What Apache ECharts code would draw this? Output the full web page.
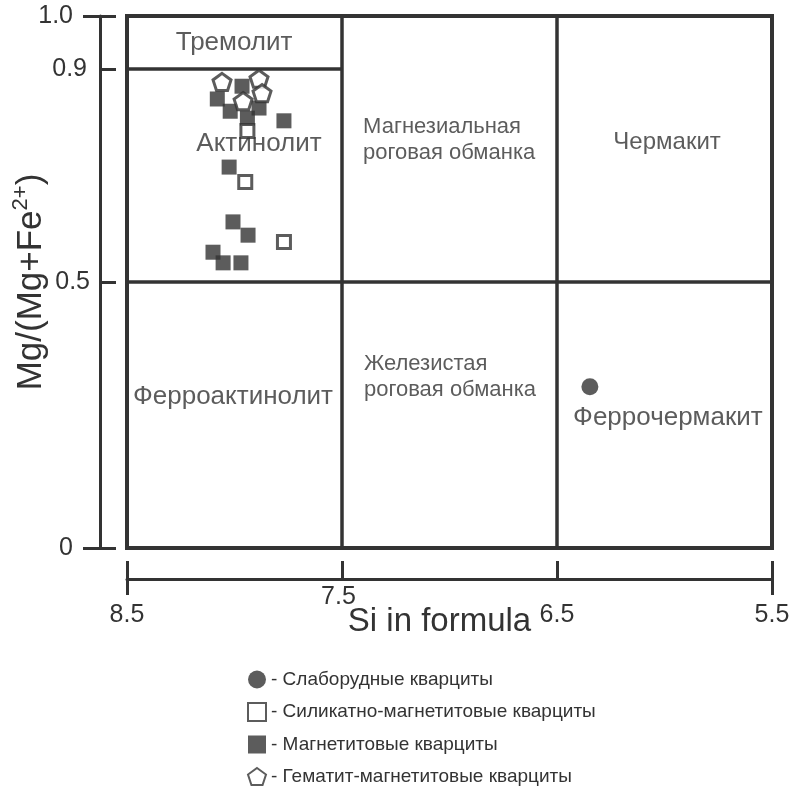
<!DOCTYPE html>
<html>
<head>
<meta charset="utf-8">
<script src="https://cdn.jsdelivr.net/npm/echarts@6/dist/echarts.min.js"></script>
<style>html,body{margin:0;padding:0;background:#fff;}#c{width:797px;height:792px;}</style>
</head>
<body>
<div id="c"></div>
<script>
// ---- data ----
var xTicks = [8.5, 7.5, 6.5, 5.5];
var yTicks = [0, 0.5, 0.9, 1.0];
var yTickLabels = ['0', '0.5', '0.9', '1.0'];

var seriesNames = ['Слаборудные кварциты', 'Силикатно-магнетитовые кварциты', 'Магнетитовые кварциты', 'Гематит-магнетитовые кварциты'];

var weakX = [6.347];
var weakY = [0.303];

var silicateX = [7.94, 7.95, 7.77];
var silicateY = [0.784, 0.688, 0.575];

var magnetiteX = [8.08, 8.02, 7.965, 7.886, 7.94, 7.77, 8.025, 8.007, 7.937, 8.10, 8.053, 7.97];
var magnetiteY = [0.844, 0.821, 0.868, 0.827, 0.808, 0.803, 0.716, 0.613, 0.588, 0.556, 0.536, 0.536];

var hematiteX = [8.058, 7.886, 7.872, 7.96];
var hematiteY = [0.876, 0.882, 0.855, 0.840];

// classification boundaries: [x1, y1, x2, y2]
var boundaries = [
  [8.5, 0.5, 5.5, 0.5],
  [8.5, 0.9, 7.5, 0.9],
  [7.5, 0, 7.5, 1],
  [6.5, 0, 6.5, 1]
];

var regionNames = ['Тремолит', 'Актинолит', 'Магнезиальная\nроговая обманка', 'Чермакит', 'Ферроактинолит', 'Железистая\nроговая обманка', 'Феррочермакит'];
var regionX = [8.002, 7.886, 7.402, 5.988, 8.007, 7.398, 5.984];
var regionY = [0.949, 0.759, 0.767, 0.763, 0.284, 0.321, 0.244];
var regionAlign = ['center', 'center', 'left', 'center', 'center', 'left', 'center'];
var regionSize = [26, 26, 22, 24, 26, 22, 26];

// ---- chart ----
function pairs(xs, ys) { return xs.map(function (x, i) { return [x, ys[i]]; }); }

var dark = '#333';
var font = 'Liberation Sans, Arial, sans-serif';
var pentagon = 'path://M0,-10 L9.51,-3.09 L5.88,8.09 L-5.88,8.09 L-9.51,-3.09 Z';

var regionData = regionNames.map(function (n, i) {
  return {
    name: n, value: [regionX[i], regionY[i]],
    label: { align: regionAlign[i], fontSize: regionSize[i], lineHeight: regionSize[i] + 4 }
  };
});

var chart = echarts.init(document.getElementById('c'), null, { renderer: 'canvas' });
chart.setOption({
  animation: false,
  backgroundColor: '#fff',
  textStyle: { fontFamily: font },
  grid: {
    left: 127, top: 16, width: 645, height: 532,
    outerBoundsMode: 'none', containLabel: false,
    show: true, borderColor: dark, borderWidth: 4, backgroundColor: '#fff'
  },
  xAxis: [{
    type: 'value', min: 5.5, max: 8.5, inverse: true, position: 'bottom', offset: 31,
    splitLine: { show: false },
    axisLine: { show: true, onZero: false, lineStyle: { color: dark, width: 3 } },
    axisTick: { show: true, inside: true, length: 18, customValues: xTicks, lineStyle: { color: dark, width: 3 } },
    axisLabel: {
      show: true, customValues: xTicks, margin: 6, color: dark, fontSize: 25,
      formatter: function (v) { return v === 7.5 ? '{hi|' + v.toFixed(1) + '}' : '{lo|' + v.toFixed(1) + '}'; },
      rich: { hi: { fontSize: 25, color: dark, padding: [0, 7, 0, 0] }, lo: { fontSize: 25, color: dark, padding: [18, 0, 0, 0] } }
    },
    name: 'Si in formula', nameLocation: 'middle', nameGap: 26, nameMoveOverlap: false,
    nameTextStyle: { fontSize: 33, color: dark, padding: [0, 20, 0, 0] }
  }, {
    type: 'value', min: 5.5, max: 8.5, inverse: true, position: 'bottom', offset: 31,
    splitLine: { show: false },
    axisLine: { show: false, onZero: false },
    axisTick: { show: true, inside: false, length: 16, customValues: [8.5, 5.5], lineStyle: { color: dark, width: 3 } },
    axisLabel: { show: false }
  }],
  yAxis: [{
    type: 'value', min: 0, max: 1, position: 'left', offset: 27,
    splitLine: { show: false },
    axisLine: { show: true, onZero: false, lineStyle: { color: dark, width: 3 } },
    axisTick: { show: true, inside: true, length: 16, customValues: yTicks, lineStyle: { color: dark, width: 3 } },
    axisLabel: {
      show: true, customValues: yTicks, margin: 10, color: dark, fontSize: 25,
      formatter: function (v) {
        var i = yTicks.indexOf(v);
        var t = yTickLabels[i];
        if (v === 0 || v === 1) return '{far|' + t + '}';
        if (v === 0.9) return '{mid|' + t + '}';
        return '{near|' + t + '}';
      },
      rich: {
        far: { fontSize: 25, color: dark, padding: [0, 17, 0, 0] },
        mid: { fontSize: 25, color: dark, padding: [0, 3, 0, 0] },
        near: { fontSize: 25, color: dark }
      }
    },
    name: '{b|Mg/(Mg+Fe}{s|2+}{b|)}', nameLocation: 'middle', nameGap: 48, nameRotate: 90, nameMoveOverlap: false,
    nameTextStyle: {
      color: dark,
      rich: {
        b: { fontSize: 35, color: dark, lineHeight: 42, fontFamily: font },
        s: { fontSize: 22, color: dark, verticalAlign: 'top', lineHeight: 42, fontFamily: font }
      }
    }
  }, {
    type: 'value', min: 0, max: 1, position: 'left', offset: 27,
    splitLine: { show: false },
    axisLine: { show: false, onZero: false },
    axisTick: { show: true, inside: false, length: 17, customValues: [0, 1], lineStyle: { color: dark, width: 3 } },
    axisLabel: { show: false }
  }],
  legend: {
    orient: 'vertical', left: 242, top: 665, itemGap: 13, itemWidth: 18, itemHeight: 18,
    data: seriesNames,
    formatter: '- {name}',
    textStyle: { fontSize: 19, color: dark },
    selectedMode: false
  },
  series: [{
    type: 'scatter', name: 'regions', silent: true, symbolSize: 0, z: 1,
    data: regionData,
    label: {
      show: true, position: 'inside', color: dark,
      formatter: function (p) { return p.name; }
    },
    markLine: {
      silent: true, symbol: 'none', animation: false,
      lineStyle: { color: dark, width: 3.5, type: 'solid' },
      label: { show: false },
      data: boundaries.map(function (b) { return [{ coord: [b[0], b[1]] }, { coord: [b[2], b[3]] }]; })
    }
  }, {
    type: 'scatter', name: seriesNames[0], symbol: 'circle', symbolSize: 17, z: 3,
    itemStyle: { color: dark },
    data: pairs(weakX, weakY)
  }, {
    type: 'scatter', name: seriesNames[2], symbol: 'rect', symbolSize: 15, z: 3,
    itemStyle: { color: dark, borderColor: dark, borderWidth: 0 },
    data: pairs(magnetiteX, magnetiteY)
  }, {
    type: 'scatter', name: seriesNames[1], symbol: 'rect', symbolSize: 13, z: 4,
    itemStyle: { color: '#fff', borderColor: dark, borderWidth: 3 },
    data: pairs(silicateX, silicateY)
  }, {
    type: 'scatter', name: seriesNames[3], symbol: pentagon, symbolSize: 18, symbolKeepAspect: true, z: 5,
    itemStyle: { color: '#fff', borderColor: dark, borderWidth: 3 },
    data: pairs(hematiteX, hematiteY)
  }]
});
</script>
</body>
</html>
